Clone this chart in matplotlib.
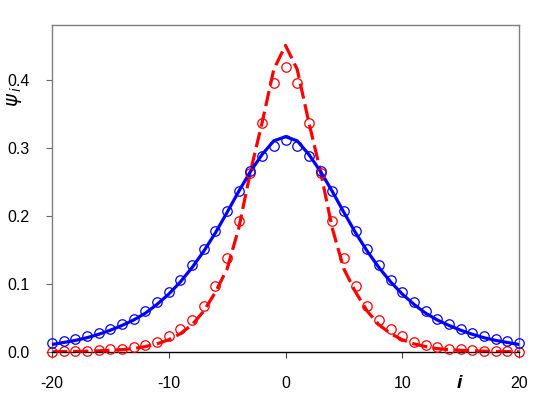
import numpy as np
import matplotlib
matplotlib.use("Agg")
import matplotlib.pyplot as plt

plt.rcParams['font.family'] = ['Liberation Sans', 'DejaVu Sans']

# half-profiles for i = 0..20 (symmetric about i = 0)
blue_pts_half = [0.311, 0.303, 0.288, 0.265, 0.236, 0.207, 0.177, 0.151, 0.127, 0.106,
                 0.088, 0.073, 0.060, 0.049, 0.041, 0.034, 0.028, 0.023, 0.019, 0.016, 0.013]
blue_line_half = [0.316, 0.310, 0.290, 0.265, 0.236, 0.205, 0.175, 0.148, 0.124, 0.103,
                  0.085, 0.070, 0.057, 0.047, 0.039, 0.032, 0.026, 0.021, 0.017, 0.014, 0.011]
red_pts_half = [0.418, 0.395, 0.336, 0.263, 0.193, 0.138, 0.097, 0.067, 0.047, 0.034,
                0.023, 0.015, 0.011, 0.008, 0.005, 0.004, 0.003, 0.002, 0.0015, 0.001, 0.0007]
red_line_half = [0.450, 0.415, 0.337, 0.265, 0.182, 0.122, 0.088, 0.060, 0.040, 0.027,
                 0.018, 0.012, 0.008, 0.005, 0.0035, 0.0025, 0.0017, 0.0012, 0.0008, 0.0005, 0.0004]

x_ticks = [-20, -10, 0, 10, 20]
y_ticks = [0.0, 0.1, 0.2, 0.3, 0.4]
y_tick_labels = ['0.0', '0.1', '0.2', '0.3', '0.4']


def full(half):
    h = list(half)
    return np.array(h[:0:-1] + h)


i_vals = np.arange(-20, 21)
blue_pts = full(blue_pts_half)
blue_line = full(blue_line_half)
red_pts = full(red_pts_half)
red_line = full(red_line_half)

fig = plt.figure(figsize=(5.45, 3.95), dpi=100)
ax = fig.add_axes([52 / 545, 1 - 352 / 395, (519 - 52) / 545, (352 - 25) / 395])

ax.plot(i_vals, red_line, color='#ff0000', lw=2.3, dashes=(4.8, 1.8), zorder=2)
ax.plot(i_vals, blue_line, color='#0000ff', lw=2.3, zorder=3)
ax.plot(i_vals, red_pts, 'o', mfc='none', mec='#ff0000', ms=6.8, mew=0.9, zorder=4, clip_on=False)
ax.plot(i_vals, blue_pts, 'o', mfc='none', mec='#0000ff', ms=6.8, mew=0.9, zorder=5, clip_on=False)

ax.set_xlim(-20, 20)
ax.set_ylim(0, 0.48)
ax.set_xticks(x_ticks)
ax.set_xticklabels([str(t) for t in x_ticks])
ax.set_yticks(y_ticks)
ax.set_yticklabels(y_tick_labels)

ax.tick_params(axis='x', direction='out', length=4, width=0.8, labelsize=11.5, pad=13, color='#444444')
ax.tick_params(axis='y', direction='out', length=4, width=0.8, labelsize=11.5, pad=12, color='#666666')
ax.tick_params(top=False, right=False)

for s in ['left', 'top', 'right']:
    ax.spines[s].set_color('#7f7f7f')
    ax.spines[s].set_linewidth(1.0)
ax.spines['bottom'].set_color('#000000')
ax.spines['bottom'].set_linewidth(1.0)

fig.text(459 / 545, 1 - 384 / 395, 'i', fontsize=14, style='italic', fontweight='bold',
         ha='center', va='center', family='Liberation Sans')
fig.text(15 / 545, 1 - 97 / 395, r'$\psi_{\,i}$', fontsize=14, rotation=90,
         ha='center', va='center')

fig.savefig('out.png', dpi=100)
